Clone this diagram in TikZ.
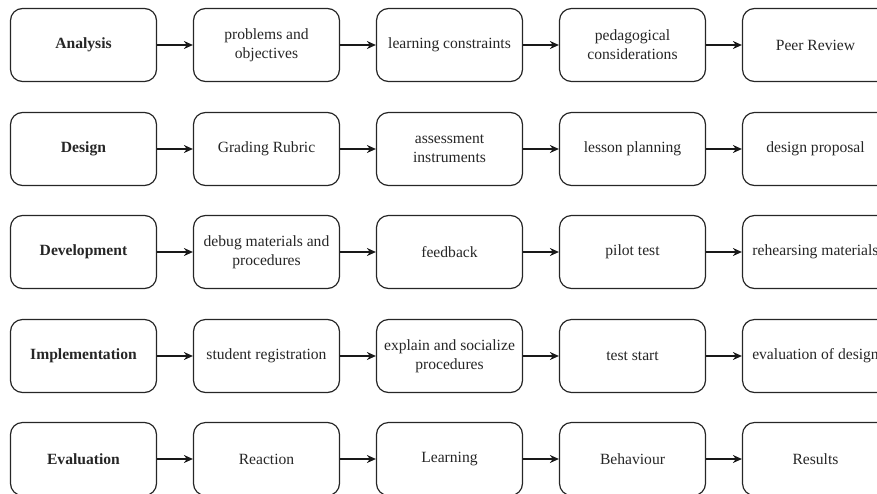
\documentclass[tikz,border=0pt]{standalone}
\usepackage{fontspec}
\setmainfont{Liberation Serif}
\usetikzlibrary{arrows.meta}
\begin{document}
\begin{tikzpicture}[x=1pt,y=-1pt,
  box/.style={draw=black!85, line width=1.2pt, rounded corners=12pt,
    minimum width=146pt, minimum height=73pt, align=center, inner sep=1pt,
    text=black!85, font=\fontsize{15.6}{19}\selectfont},
  headbox/.style={box, font=\bfseries\fontsize{15.6}{19}\selectfont},
  conn/.style={-{Stealth[length=9pt,width=8pt]}, line width=1.2pt, draw=black!90}]
\useasboundingbox (0,0) rectangle (877,493);
\clip (0,0) rectangle (877,493);
% row 1
\node[headbox] (a0) at (83.5,45) {Analysis};
\node[box] (a1) at (266.5,45) {problems and\\objectives};
\node[box] (a2) at (449.5,45) {learning constraints};
\node[box] (a3) at (632.5,45) {pedagogical\\considerations};
\node[box] (a4) at (815.5,45) {Peer Review};
% row 2
\node[headbox] (b0) at (83.5,149) {Design};
\node[box] (b1) at (266.5,149) {Grading Rubric};
\node[box] (b2) at (449.5,149) {assessment\\instruments};
\node[box] (b3) at (632.5,149) {lesson planning};
\node[box] (b4) at (815.5,149) {design proposal};
% row 3
\node[headbox] (c0) at (83.5,252) {Development};
\node[box] (c1) at (266.5,252) {debug materials and\\procedures};
\node[box] (c2) at (449.5,252) {feedback};
\node[box] (c3) at (632.5,252) {pilot test};
\node[box] (c4) at (815.5,252) {rehearsing materials};
% row 4
\node[headbox] (d0) at (83.5,356) {Implementation};
\node[box] (d1) at (266.5,356) {student registration};
\node[box] (d2) at (449.5,356) {explain and socialize\\procedures};
\node[box] (d3) at (632.5,356) {test start};
\node[box] (d4) at (815.5,356) {evaluation of design};
% row 5
\node[headbox] (e0) at (83.5,459) {Evaluation};
\node[box] (e1) at (266.5,459) {Reaction};
\node[box] (e2) at (449.5,459) {Learning};
\node[box] (e3) at (632.5,459) {Behaviour};
\node[box] (e4) at (815.5,459) {Results};
\foreach \r in {a,b,c,d,e}{
  \draw[conn] (\r0) -- (\r1);
  \draw[conn] (\r1) -- (\r2);
  \draw[conn] (\r2) -- (\r3);
  \draw[conn] (\r3) -- (\r4);
}
\end{tikzpicture}
\end{document}
